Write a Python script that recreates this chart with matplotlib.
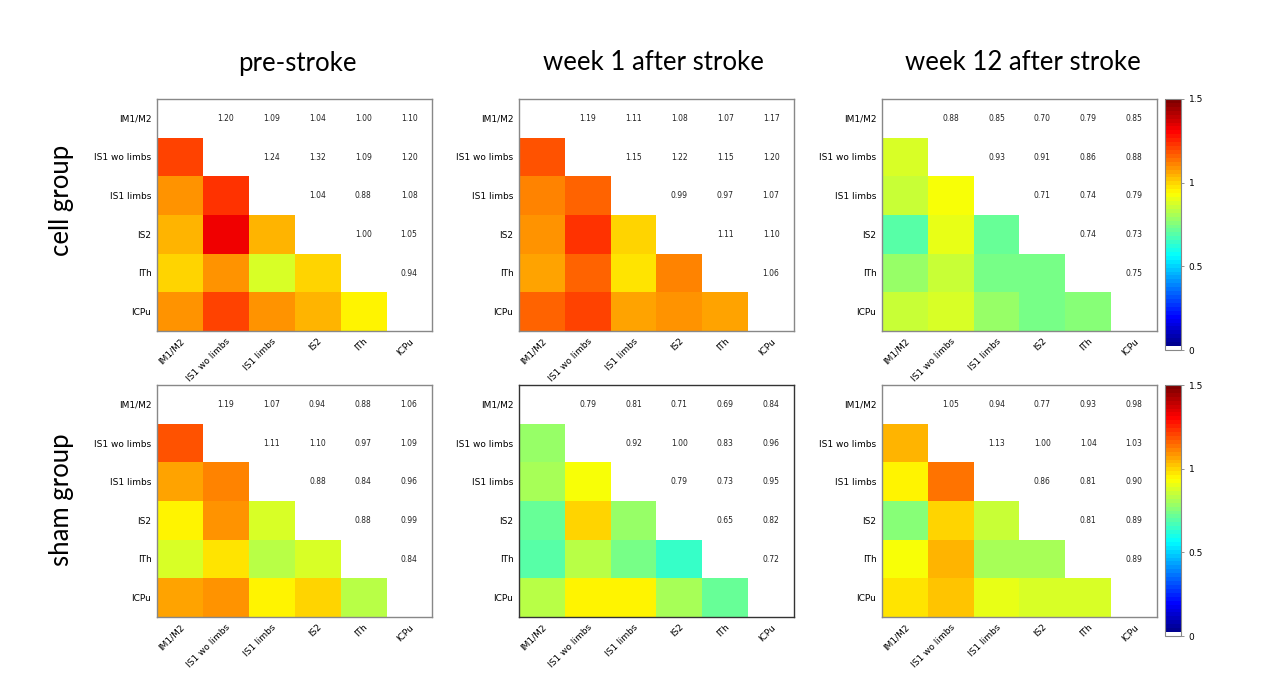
import numpy as np
import matplotlib
matplotlib.use("Agg")
import matplotlib.pyplot as plt
from matplotlib.colors import ListedColormap, Normalize
from matplotlib.cm import ScalarMappable

regions = ["lM1/M2", "lS1 wo limbs", "lS1 limbs", "lS2", "lTh", "lCPu"]
col_titles = ["pre-stroke", "week 1 after stroke", "week 12 after stroke"]
row_titles = ["cell group", "sham group"]

# upper-triangle values, row by row (row i holds columns i+1 .. 5)
cell_pre = [[1.20, 1.09, 1.04, 1.00, 1.10],
            [1.24, 1.32, 1.09, 1.20],
            [1.04, 0.88, 1.08],
            [1.00, 1.05],
            [0.94]]
cell_wk1 = [[1.19, 1.11, 1.08, 1.07, 1.17],
            [1.15, 1.22, 1.15, 1.20],
            [0.99, 0.97, 1.07],
            [1.11, 1.10],
            [1.06]]
cell_wk12 = [[0.88, 0.85, 0.70, 0.79, 0.85],
             [0.93, 0.91, 0.86, 0.88],
             [0.71, 0.74, 0.79],
             [0.74, 0.73],
             [0.75]]
sham_pre = [[1.19, 1.07, 0.94, 0.88, 1.06],
            [1.11, 1.10, 0.97, 1.09],
            [0.88, 0.84, 0.96],
            [0.88, 0.99],
            [0.84]]
sham_wk1 = [[0.79, 0.81, 0.71, 0.69, 0.84],
            [0.92, 1.00, 0.83, 0.96],
            [0.79, 0.73, 0.95],
            [0.65, 0.82],
            [0.72]]
sham_wk12 = [[1.05, 0.94, 0.77, 0.93, 0.98],
             [1.13, 1.00, 1.04, 1.03],
             [0.86, 0.81, 0.90],
             [0.81, 0.89],
             [0.89]]

panels = [[cell_pre, cell_wk1, cell_wk12],
          [sham_pre, sham_wk1, sham_wk12]]

VMIN, VMAX = 0.0, 1.5

# classic (matlab-style) jet, 64 levels, lowest level white so empty cells stay white
t = np.linspace(0, 1, 64)
jet_r = np.clip(np.minimum(4 * t - 1.5, -4 * t + 4.5), 0, 1)
jet_g = np.clip(np.minimum(4 * t - 0.5, -4 * t + 3.5), 0, 1)
jet_b = np.clip(np.minimum(4 * t + 0.5, -4 * t + 2.5), 0, 1)
levels = np.column_stack([jet_r, jet_g, jet_b, np.ones_like(t)])
levels[0] = [1, 1, 1, 1]
cmap = ListedColormap(levels)
norm = Normalize(VMIN, VMAX)

W, H = 1275, 700
fig = plt.figure(figsize=(W / 100, H / 100), dpi=100)

lefts = [157, 519, 882]
tops = [99, 385]
pw, ph = 275, 232


def lower_matrix(upper):
    n = len(regions)
    m = np.zeros((n, n))
    for i, row in enumerate(upper):
        for k, v in enumerate(row):
            m[i + 1 + k, i] = v
    return m


for r in range(2):
    for c in range(3):
        ax = fig.add_axes([lefts[c] / W, 1 - (tops[r] + ph) / H, pw / W, ph / H])
        upper = panels[r][c]
        ax.imshow(lower_matrix(upper), cmap=cmap, norm=norm, aspect="auto",
                  interpolation="nearest")
        for i, row in enumerate(upper):
            for k, v in enumerate(row):
                ax.text(i + 1 + k, i, f"{v:.2f}", ha="center", va="center",
                        fontsize=5.5, color="#222222")
        ax.set_xticks(range(len(regions)))
        ax.set_yticks(range(len(regions)))
        ax.set_xticklabels(regions, rotation=45, ha="right",
                           rotation_mode="anchor", fontsize=6.5)
        ax.set_yticklabels(regions, fontsize=6.5)
        ax.tick_params(length=0, pad=4)
        edge = "#333333" if (r, c) == (1, 1) else "#888888"
        for sp in ax.spines.values():
            sp.set_color(edge)
            sp.set_linewidth(1.0)

    # colorbar for the row
    cax = fig.add_axes([1165 / W, 1 - (tops[r] + 251) / H, 16 / W, 251 / H])
    cb = fig.colorbar(ScalarMappable(norm=norm, cmap=cmap), cax=cax,
                      ticks=[0, 0.5, 1, 1.5])
    cb.ax.set_yticklabels(["0", "0.5", "1", "1.5"])
    cb.ax.tick_params(labelsize=6.5, length=2, width=0.5, color="#666666")
    cb.outline.set_edgecolor("#888888")
    cb.outline.set_linewidth(0.8)

title_x = [297, 653, 1023]
for c, txt in enumerate(col_titles):
    fig.text(title_x[c] / W, 1 - 63 / H, txt, ha="center", va="center",
             fontsize=18.5, family="Lato")

row_y = [200, 500]
for r, txt in enumerate(row_titles):
    fig.text(62 / W, 1 - row_y[r] / H, txt, ha="center", va="center",
             rotation=90, fontsize=18.5, family="Lato")

fig.savefig("out.png", dpi=100)
